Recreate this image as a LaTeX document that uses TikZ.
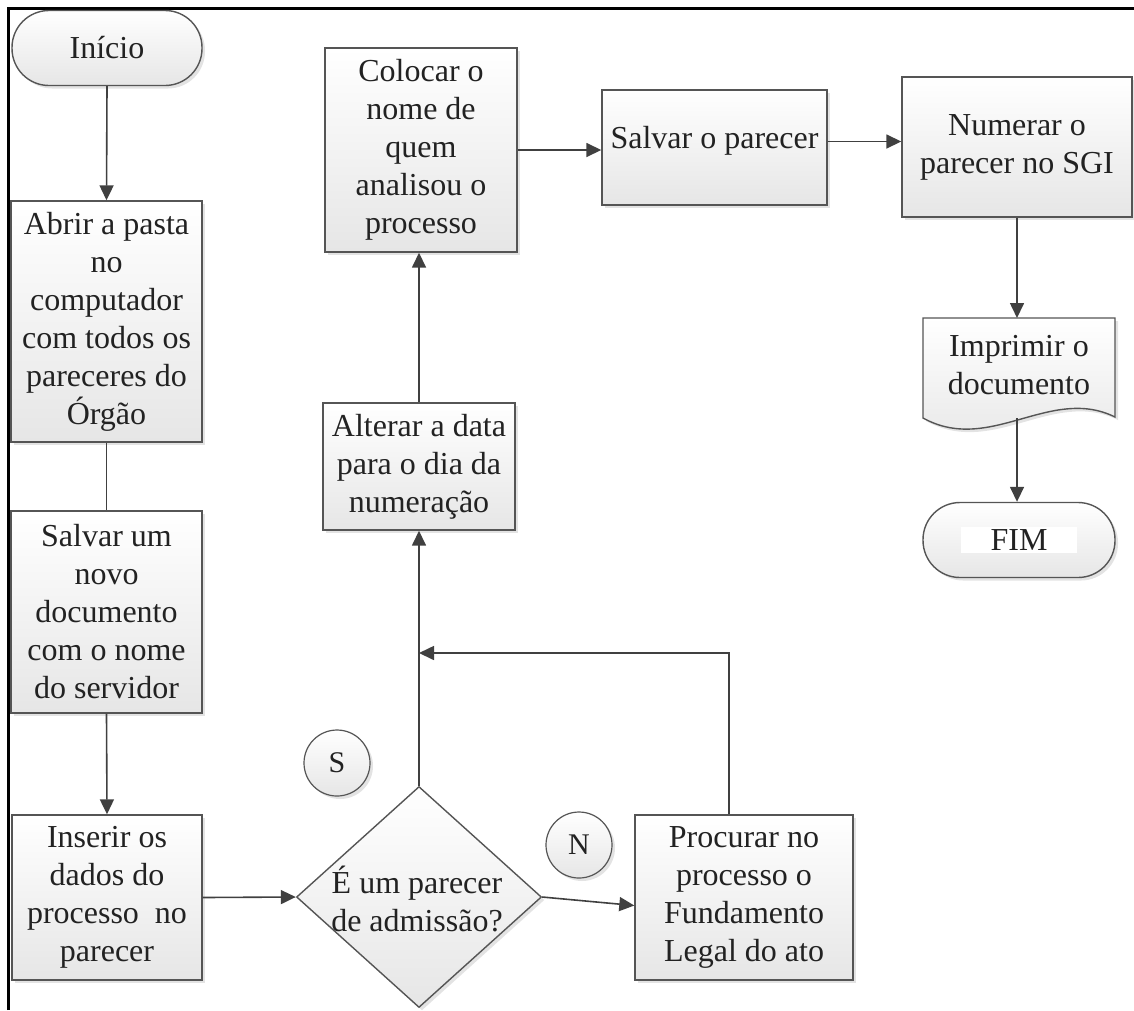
\documentclass[tikz,border=0pt]{standalone}
\usepackage{fontspec}
\setmainfont{Liberation Serif}
\usetikzlibrary{shapes.geometric,shadows,arrows.meta,calc}

\definecolor{edge}{HTML}{555555}
\definecolor{wire}{HTML}{404040}
\definecolor{ink}{HTML}{222222}
\definecolor{lowfill}{HTML}{E6E6E6}

\tikzset{
  x=1pt, y=-1pt,
  shade3d/.style={top color=white, bottom color=lowfill,
    drop shadow={opacity=0.22, shadow xshift=3pt, shadow yshift=-3pt}},
  stepbox/.style={rectangle, draw=edge, line width=1.4pt, shade3d,
    inner sep=0pt, align=center, text=ink,
    font=\fontsize{32}{38}\selectfont},
  termbox/.style={stepbox, rounded corners=37pt},
  decbox/.style={diamond, draw=edge, line width=1.4pt, shade3d,
    inner sep=0pt, minimum width=245pt, minimum height=221pt},
  flagbox/.style={circle, draw=edge, line width=1.2pt, shade3d,
    inner sep=0pt, minimum size=66pt, text=ink,
    font=\fontsize{30}{36}\selectfont},
  txt/.style={align=center, text=ink, inner sep=0pt,
    font=\fontsize{32}{38}\selectfont},
  flow/.style={draw=wire, line width=1.6pt,
    -{Triangle[length=15pt,width=14pt]}},
  plain/.style={draw=wire, line width=1.6pt},
}

\begin{document}
\begin{tikzpicture}
\useasboundingbox (0,0) rectangle (1134,1010);

% frame lines
\draw[line width=3pt, black] (8,1010) -- (8,8) -- (1134,8);

% left column
\node[termbox, minimum width=190pt, minimum height=75pt] (ini) at (107,48) {Início};
\node[stepbox, minimum width=191pt, minimum height=241pt] (abrir) at (106.5,321.5)
  {Abrir a pasta\\no\\computador\\com todos os\\pareceres do\\Órgão};
\node[stepbox, minimum width=191pt, minimum height=202pt] (salv1) at (106.5,612)
  {Salvar um\\novo\\documento\\com o nome\\do servidor};
\node[stepbox, minimum width=190pt, minimum height=165pt] (ins) at (107,897.5)
  {Inserir os\\dados do\\processo\ \ no\\parecer};

% decision
\node[decbox] (dec) at (419,897) {};
\node[txt] (dectxt) at (417,899) {É um parecer\\de admissão?};
\node[flagbox] (flagS) at (337,763) {S};
\node[flagbox] (flagN) at (579,845) {N};

\node[stepbox, minimum width=218pt, minimum height=165pt] (proc) at (744,897.5)
  {Procurar no\\processo o\\Fundamento\\Legal do ato};

% middle column
\node[stepbox, minimum width=192pt, minimum height=127pt] (alt) at (419,466.5)
  {Alterar a data\\para o dia da\\numeração};
\node[stepbox, minimum width=192pt, minimum height=204pt] (col) at (421,150)
  {Colocar o\\nome de\\quem\\analisou o\\processo};

% top row and right column
\node[stepbox, minimum width=225pt, minimum height=115pt, text depth=20pt] (salv2) at (714.5,147.5)
  {Salvar o parecer};
\node[stepbox, minimum width=230pt, minimum height=140pt] (num) at (1017,147)
  {Numerar o\\parecer no SGI};

% document shape
\path[draw=edge, line width=1.4pt, shade3d]
  (923,318) -- (1115,318) -- (1115,417)
  .. controls (1050,385) and (990,455) .. (923,418) -- cycle;
\node[txt, minimum width=192pt, minimum height=100pt] (doc) at (1019,368)
  {\raisebox{8pt}{\begin{tabular}{@{}c@{}}Imprimir o\\documento\end{tabular}}};
\coordinate (doctop) at (1017,318);
\coordinate (docb) at (1017,418);

\node[termbox, minimum width=192pt, minimum height=75pt] (fim) at (1019,540)
  {\colorbox{white}{\makebox[110pt]{FIM}}};

% connectors
\draw[flow] (ini.south) -- (abrir.north);
\draw[plain] (abrir.south) -- (salv1.north);
\draw[flow] (salv1.south) -- (ins.north);
\draw[flow] (ins.east) -- (dec.west);
\coordinate (procin) at ($(proc.west)+(0,8)$);
\draw[flow] (dec.east) -- (procin);
\draw[flow] (dec.north) -- (alt.south);
\coordinate (procup) at ($(proc.north)+(-15,0)$);
\coordinate (merge) at (419,653);
\draw[flow] (procup) |- (merge);
\draw[flow] (alt.north) -- (alt.north |- col.south);
\draw[flow] (col.east) -- (col.east -| salv2.west);
\draw[flow] ($(salv2.east)+(0,-6)$) -- ($(salv2.east -| num.west)+(0,-6)$);
\draw[flow] (num.south) -- (doctop);
\draw[flow] (docb) -- (docb |- fim.north);
\end{tikzpicture}
\end{document}
